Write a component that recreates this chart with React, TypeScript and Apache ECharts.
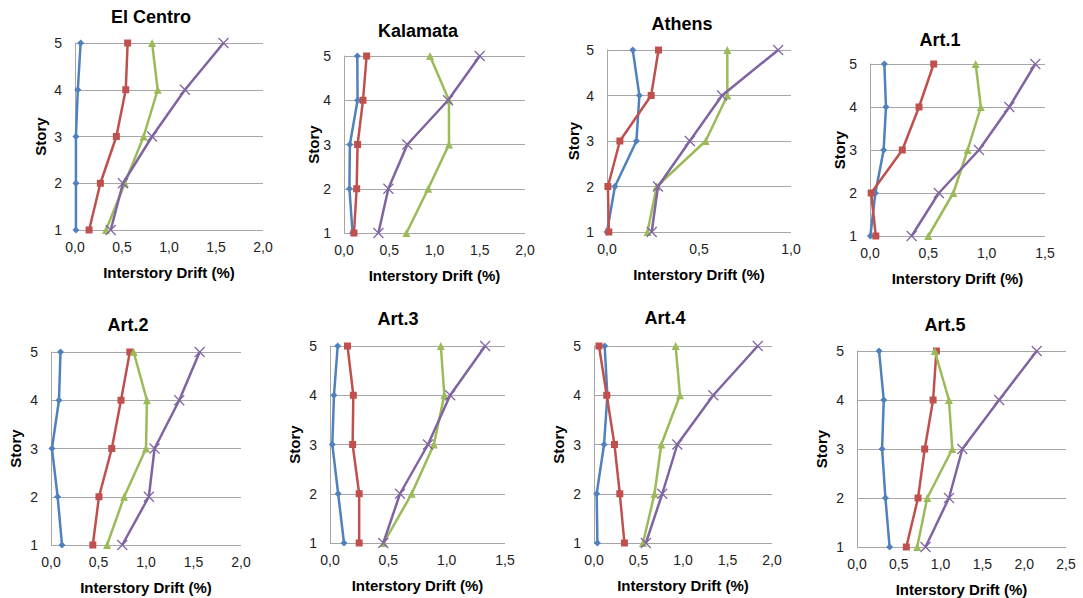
import React, { useEffect, useRef } from "react";
import * as echarts from "echarts";

const stories = [1, 2, 3, 4, 5];
const panelTitles = ["El Centro", "Kalamata", "Athens", "Art.1", "Art.2", "Art.3", "Art.4", "Art.5"];
const xMax = [2, 2, 1, 1.5, 2, 1.5, 2, 2.5];

// values listed for story 1..5
const elCentroBlue = [0.01, 0.01, 0.01, 0.03, 0.06];
const elCentroRed = [0.15, 0.27, 0.44, 0.54, 0.56];
const elCentroGreen = [0.33, 0.53, 0.73, 0.88, 0.82];
const elCentroPurple = [0.38, 0.51, 0.82, 1.17, 1.58];

const kalamataBlue = [0.095, 0.06, 0.065, 0.15, 0.147];
const kalamataRed = [0.11, 0.14, 0.15, 0.21, 0.25];
const kalamataGreen = [0.69, 0.93, 1.16, 1.16, 0.95];
const kalamataPurple = [0.38, 0.49, 0.7, 1.15, 1.5];

const athensBlue = [0.0, 0.043, 0.16, 0.176, 0.14];
const athensRed = [0.01, 0.005, 0.07, 0.24, 0.28];
const athensGreen = [0.22, 0.27, 0.536, 0.654, 0.654];
const athensPurple = [0.243, 0.277, 0.45, 0.625, 0.93];

const art1Blue = [0.003, 0.046, 0.117, 0.137, 0.123];
const art1Red = [0.05, 0.01, 0.277, 0.42, 0.546];
const art1Green = [0.5, 0.714, 0.837, 0.95, 0.906];
const art1Purple = [0.357, 0.59, 0.934, 1.194, 1.417];

const art2Blue = [0.116, 0.07, 0.01, 0.084, 0.1];
const art2Red = [0.44, 0.505, 0.64, 0.737, 0.83];
const art2Green = [0.59, 0.77, 1.0, 1.01, 0.87];
const art2Purple = [0.75, 1.03, 1.09, 1.35, 1.565];

const art3Blue = [0.12, 0.07, 0.02, 0.034, 0.066];
const art3Red = [0.25, 0.25, 0.194, 0.2, 0.15];
const art3Green = [0.46, 0.7, 0.89, 0.98, 0.95];
const art3Purple = [0.457, 0.6, 0.84, 1.03, 1.33];

const art4Blue = [0.038, 0.03, 0.113, 0.15, 0.12];
const art4Red = [0.342, 0.29, 0.23, 0.143, 0.056];
const art4Green = [0.55, 0.68, 0.756, 0.966, 0.917];
const art4Purple = [0.583, 0.767, 0.936, 1.34, 1.84];

const art5Blue = [0.39, 0.34, 0.3, 0.32, 0.264];
const art5Red = [0.59, 0.73, 0.81, 0.91, 0.95];
const art5Green = [0.72, 0.84, 1.14, 1.1, 0.93];
const art5Purple = [0.82, 1.1, 1.26, 1.7, 2.15];

const panelData = [
  [elCentroBlue, elCentroRed, elCentroGreen, elCentroPurple],
  [kalamataBlue, kalamataRed, kalamataGreen, kalamataPurple],
  [athensBlue, athensRed, athensGreen, athensPurple],
  [art1Blue, art1Red, art1Green, art1Purple],
  [art2Blue, art2Red, art2Green, art2Purple],
  [art3Blue, art3Red, art3Green, art3Purple],
  [art4Blue, art4Red, art4Green, art4Purple],
  [art5Blue, art5Red, art5Green, art5Purple],
];

const xAxisName = "Interstory Drift (%)";
const yAxisName = "Story";

// layout
const gridRects = [
  [75, 43, 188, 187],
  [344, 56, 181, 177],
  [607, 50, 184, 182],
  [870, 64, 175, 172],
  [51, 352, 190, 193],
  [330, 346, 175, 197],
  [594, 346, 178, 197],
  [857, 351, 209, 196],
];
const titlePos = [
  [151, 17],
  [418, 31],
  [682, 24],
  [940, 40],
  [128, 325],
  [398, 319],
  [665, 318],
  [945, 325],
];
const storyOffset = [35, 31, 34, 31, 36, 36, 36, 36];

const colors = ["#4F81BD", "#C0504D", "#9BBB59", "#8064A2"];
const symbols = ["diamond", "rect", "triangle", "path://M0,0L10,10M10,0L0,10"];
const symbolSizes = [7, 7, 8, 10];
const FONT = 'Arial, "Liberation Sans", sans-serif';

export default function App() {
  const ref = useRef<HTMLDivElement>(null);
  useEffect(() => {
    if (!ref.current) return;
    const chart = echarts.init(ref.current, null, { renderer: "svg" });
    const grids: any[] = [];
    const xAxes: any[] = [];
    const yAxes: any[] = [];
    const series: any[] = [];
    const graphics: any[] = [];
    gridRects.forEach((r, i) => {
      const [left, top, width, height] = r;
      grids.push({ left, top, width, height, containLabel: false });
      xAxes.push({
        type: "value",
        gridIndex: i,
        min: 0,
        max: xMax[i],
        interval: 0.5,
        axisLine: { show: false },
        axisTick: { show: false },
        splitLine: { show: false },
        axisLabel: {
          margin: 10,
          fontSize: 14,
          color: "#222",
          fontFamily: FONT,
          formatter: (v: number) => v.toFixed(1).replace(".", ","),
        },
      });
      yAxes.push({
        type: "value",
        gridIndex: i,
        min: 1,
        max: 5,
        interval: 1,
        axisLine: { show: true, lineStyle: { color: "#A6A6A6", width: 1 } },
        axisTick: { show: false },
        splitLine: { show: true, lineStyle: { color: "#A6A6A6", width: 1 } },
        axisLabel: { margin: 13, fontSize: 14, color: "#222", fontFamily: FONT },
      });
      panelData[i].forEach((vals, s) => {
        const isCross = s === 3;
        series.push({
          type: "line",
          xAxisIndex: i,
          yAxisIndex: i,
          data: vals.map((v, k) => [v, stories[k]]),
          symbol: symbols[s],
          symbolSize: symbolSizes[s],
          showAllSymbol: true,
          lineStyle: { color: colors[s], width: 2.5 },
          itemStyle: isCross
            ? { color: "none", borderColor: colors[s], borderWidth: 1.2 }
            : { color: colors[s] },
          emphasis: { disabled: true },
          z: 2 + s,
        });
      });
      graphics.push({
        type: "text",
        x: titlePos[i][0],
        y: titlePos[i][1],
        style: {
          text: panelTitles[i],
          fontSize: 18,
          fontWeight: "bold",
          fontFamily: FONT,
          fill: "#000",
          align: "center",
          verticalAlign: "middle",
        },
      });
      graphics.push({
        type: "text",
        x: left + width / 2,
        y: top + height + 42,
        style: {
          text: xAxisName,
          fontSize: 15,
          fontWeight: "bold",
          fontFamily: FONT,
          fill: "#000",
          align: "center",
          verticalAlign: "middle",
        },
      });
      graphics.push({
        type: "text",
        x: left - storyOffset[i],
        y: top + height / 2,
        rotation: Math.PI / 2,
        style: {
          text: yAxisName,
          fontSize: 15,
          fontWeight: "bold",
          fontFamily: FONT,
          fill: "#000",
          align: "center",
          verticalAlign: "middle",
        },
      });
    });
    chart.setOption({
      animation: false,
      backgroundColor: "#fff",
      grid: grids,
      xAxis: xAxes,
      yAxis: yAxes,
      series,
      graphic: graphics,
    });
    return () => chart.dispose();
  }, []);
  return (
    <div
      ref={ref}
      style={{ position: "fixed", left: 0, top: 0, width: 1083, height: 598, background: "#fff" }}
    />
  );
}
